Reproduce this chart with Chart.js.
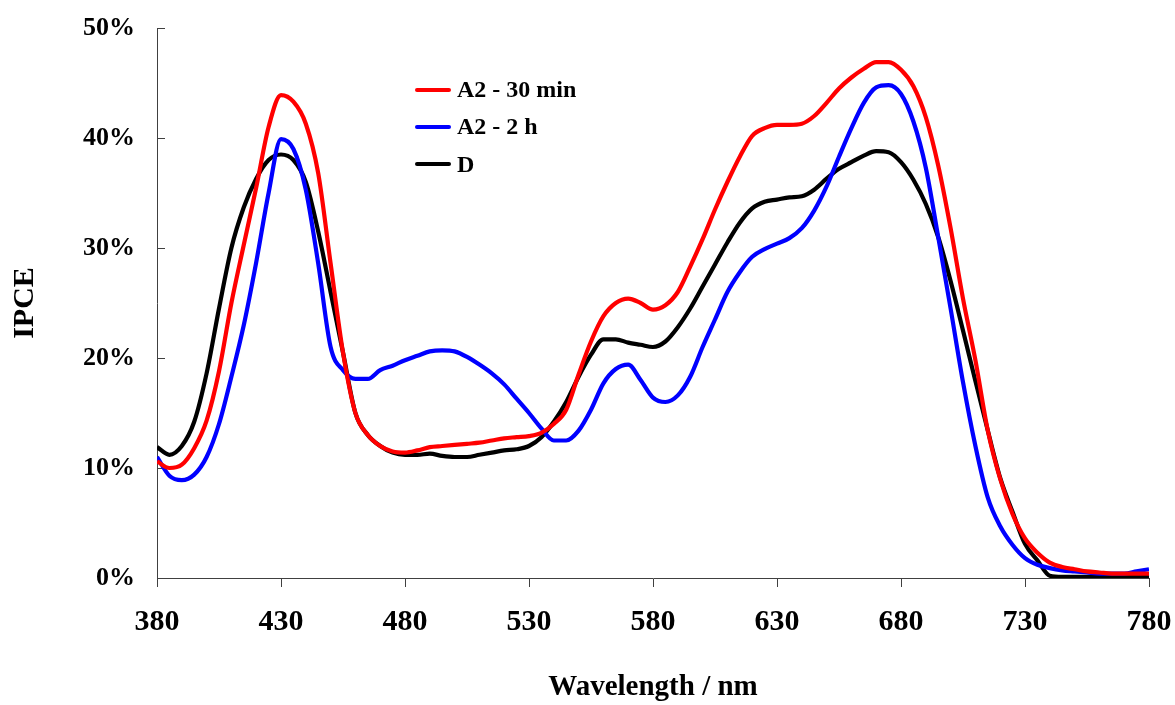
<!DOCTYPE html>
<html>
<head>
<meta charset="utf-8">
<script src="https://cdn.jsdelivr.net/npm/chart.js@4.4.1/dist/chart.umd.min.js"></script>
<style>
  body { margin: 0; background: #fff; }
  #wrap { position: relative; width: 1175px; height: 705px; }
  #legend {
    position: absolute; left: 415px; top: 71px;
    font: bold 24px "Liberation Serif", "Times New Roman", serif; color: #000;
  }
  .item { display: flex; align-items: center; height: 37.3px; }
  .swatch { width: 36px; height: 4px; border-radius: 2px; margin-right: 6px; }
</style>
</head>
<body>
<div id="wrap">
  <canvas id="ipceChart" width="1175" height="705"></canvas>
  <div id="legend"></div>
</div>
<script>
// wavelength grid (nm)
const wavelengths = [380, 385, 390, 395, 400, 405, 410, 415, 420, 425, 430, 435, 440, 445, 450, 455,
  460, 465, 470, 475, 480, 485, 490, 495, 500, 505, 510, 515, 520, 525, 530, 535, 540, 545, 550, 555,
  560, 565, 570, 575, 580, 585, 590, 595, 600, 605, 610, 615, 620, 625, 630, 635, 640, 645, 650, 655,
  660, 665, 670, 675, 680, 685, 690, 695, 700, 705, 710, 715, 720, 725, 730, 735, 740, 745, 750, 755,
  760, 765, 770, 775, 780];

// IPCE (%)
const a2_30min = [10.6, 10.0, 10.3, 11.8, 14.3, 18.8, 25.0, 30.3, 35.5, 41.0, 43.9, 43.3, 41.3, 36.8, 28.6, 20.5,
  15.0, 13.0, 12.0, 11.5, 11.4, 11.6, 11.9, 12.0, 12.1, 12.2, 12.3, 12.5, 12.7, 12.8, 12.9, 13.2, 14.0, 15.3, 18.5, 21.5,
  23.8, 25.0, 25.4, 25.0, 24.4, 24.8, 26.0, 28.3, 30.8, 33.5, 36.0, 38.3, 40.2, 40.9, 41.2, 41.2, 41.3, 42.0, 43.2, 44.5,
  45.5, 46.3, 46.9, 46.9, 46.2, 44.7, 41.9, 37.5, 31.8, 25.4, 19.8, 13.4, 9.0, 5.8, 3.6, 2.3, 1.4, 1.0, 0.8, 0.6,
  0.5, 0.4, 0.4, 0.4, 0.4];

const a2_2h = [11.0, 9.3, 8.9, 9.4, 11.0, 14.0, 18.3, 23.0, 28.7, 35.0, 39.9, 39.0, 35.3, 28.6, 21.0, 18.9,
  18.1, 18.1, 18.9, 19.3, 19.8, 20.2, 20.6, 20.7, 20.6, 20.1, 19.4, 18.6, 17.6, 16.3, 15.0, 13.6, 12.5, 12.5, 13.4, 15.3,
  17.7, 19.0, 19.4, 18.0, 16.4, 16.0, 16.6, 18.3, 21.0, 23.5, 26.0, 27.8, 29.2, 29.9, 30.4, 30.9, 31.8, 33.4, 35.6, 38.3,
  40.9, 43.2, 44.6, 44.8, 44.0, 41.5, 37.3, 31.0, 24.5, 17.8, 12.0, 7.3, 4.7, 3.0, 1.8, 1.2, 0.9, 0.7, 0.6, 0.5,
  0.4, 0.4, 0.4, 0.6, 0.8];

const seriesD = [11.9, 11.2, 12.0, 14.2, 18.6, 24.5, 30.0, 33.7, 36.3, 38.0, 38.5, 38.0, 36.0, 31.5, 26.0, 20.5,
  15.0, 13.0, 12.0, 11.4, 11.2, 11.2, 11.3, 11.1, 11.0, 11.0, 11.2, 11.4, 11.6, 11.7, 12.0, 12.8, 14.2, 16.0, 18.3, 20.3,
  21.7, 21.7, 21.4, 21.2, 21.0, 21.5, 22.8, 24.5, 26.5, 28.5, 30.5, 32.3, 33.6, 34.2, 34.4, 34.6, 34.7, 35.3, 36.3, 37.2,
  37.8, 38.4, 38.8, 38.7, 37.8, 36.2, 34.0, 31.0, 27.0, 22.5, 17.9, 13.4, 9.1, 6.0, 3.1, 1.6, 0.2, 0.1, 0.1, 0.1,
  0.1, 0.1, 0.1, 0.1, 0.1];

const seriesNames = ["A2 - 30 min", "A2 - 2 h", "D"];
const seriesColors = ["#ff0000", "#0000ff", "#000000"];
const yTickValues = [0, 10, 20, 30, 40, 50];

const fontFamily = '"Liberation Serif", "Times New Roman", serif';
const axisColor = "#404040";

function toPoints(values) {
  return wavelengths.map((w, i) => ({ x: w, y: values[i] }));
}

// y ticks in the original point into the plot
const innerTicks = {
  id: "innerTicks",
  beforeDatasetsDraw(chart) {
    const yScale = chart.scales.y;
    const ctx = chart.ctx;
    ctx.save();
    ctx.strokeStyle = axisColor;
    ctx.lineWidth = 1;
    yScale.ticks.forEach((t, i) => {
      const py = Math.round(yScale.getPixelForTick(i)) + 0.5;
      ctx.beginPath();
      ctx.moveTo(yScale.right, py);
      ctx.lineTo(yScale.right + 8, py);
      ctx.stroke();
    });
    ctx.restore();
  }
};

const ctx = document.getElementById("ipceChart").getContext("2d");
const myChart = new Chart(ctx, {
  type: "line",
  data: {
    datasets: [a2_30min, a2_2h, seriesD].map((vals, i) => ({
      label: seriesNames[i],
      data: toPoints(vals),
      borderColor: seriesColors[i],
      borderWidth: 4.2,
      pointRadius: 0,
      cubicInterpolationMode: "monotone",
      fill: false
    }))
  },
  options: {
    responsive: false,
    animation: false,
    devicePixelRatio: 1,
    layout: { padding: { top: 28, right: 26, bottom: 0, left: 0 } },
    plugins: { legend: { display: false }, tooltip: { enabled: false } },
    scales: {
      x: {
        type: "linear",
        min: 380,
        max: 780,
        afterFit: (s) => { s.height = 127; s.paddingLeft = 0; s.paddingRight = 0; },
        ticks: {
          stepSize: 50,
          padding: 17,
          maxRotation: 0,
          autoSkip: false,
          color: "#000",
          callback: (v) => String(v),
          font: { family: fontFamily, size: 30, weight: "bold" }
        },
        grid: { drawOnChartArea: false, drawTicks: true, tickLength: 9, color: axisColor },
        border: { color: axisColor, width: 1 },
        title: {
          display: true,
          text: "Wavelength / nm",
          color: "#000",
          font: { family: fontFamily, size: 29, weight: "bold" },
          padding: { top: 0, bottom: 0 }
        }
      },
      y: {
        min: 0,
        max: 50,
        afterFit: (s) => { s.width = 157; s.paddingTop = 0; s.paddingBottom = 0; },
        afterBuildTicks: (s) => { s.ticks = yTickValues.map((v) => ({ value: v })); },
        ticks: {
          padding: 22,
          color: "#000",
          callback: (v) => v + "%",
          font: { family: fontFamily, size: 26, weight: "bold" }
        },
        grid: { drawOnChartArea: false, drawTicks: false },
        border: { color: axisColor, width: 1 },
        title: {
          display: true,
          text: "IPCE",
          color: "#000",
          font: { family: fontFamily, size: 30, weight: "bold" },
          padding: { top: 7, bottom: 0 }
        }
      }
    }
  },
  plugins: [innerTicks]
});

// legend built from the datasets
const legendEl = document.getElementById("legend");
myChart.data.datasets.forEach((ds) => {
  const row = document.createElement("div");
  row.className = "item";
  const sw = document.createElement("span");
  sw.className = "swatch";
  sw.style.background = ds.borderColor;
  const label = document.createElement("span");
  label.textContent = ds.label;
  row.appendChild(sw);
  row.appendChild(label);
  legendEl.appendChild(row);
});
</script>
</body>
</html>
